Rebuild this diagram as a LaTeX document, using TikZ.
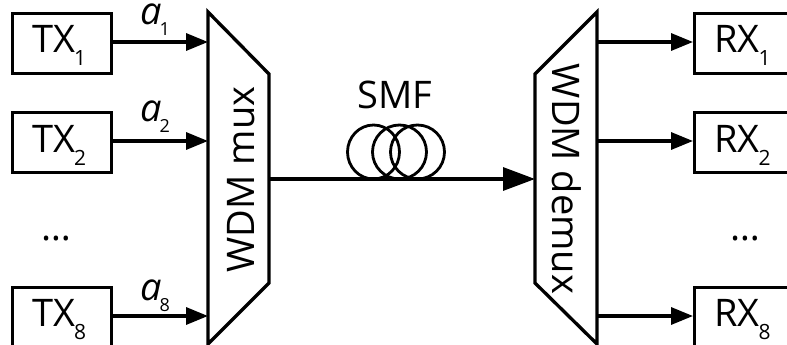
\documentclass[tikz,border=0pt]{standalone}
\usepackage{fontspec}
\setmainfont{Open Sans}
\usetikzlibrary{arrows.meta}
\newcommand{\subs}[1]{\hspace{-1pt}\raisebox{-13pt}{\fontsize{21}{21}\selectfont #1}}
\newcommand{\asub}[1]{\makebox[19.5pt][l]{\textit{a}}\raisebox{-11pt}{\fontsize{18}{18}\selectfont #1}}
\tikzset{
  x=1pt,y=-1pt,
  ln/.style={line width=3.3pt,line join=miter},
  box/.style={draw,ln,rectangle,minimum width=99pt,minimum height=60pt,inner sep=0pt,anchor=north west},
  txt/.style={inner sep=0pt,font=\fontsize{38}{41}\selectfont},
  sig/.style={ln,-{Triangle[length=22pt,width=17pt,sep=0pt]},shorten >=0pt},
  big/.style={ln,-{Triangle[length=32pt,width=23pt]}},
  coil/.style={line width=2.8pt},
}
\begin{document}
\begin{tikzpicture}
\useasboundingbox (0,0) rectangle (787,345);
% boxes
\node[box] (tx1) at (11,12) {};
\node[box] (tx2) at (11,111) {};
\node[box] (tx8) at (11,286) {};
\node[box] (rx1) at (693,12) {};
\node[box] (rx2) at (693,111) {};
\node[box] (rx8) at (693,286) {};
% box texts
\node[txt,anchor=base west] (tx1t) at (32,53) {TX\subs{1}};
\node[txt,anchor=base west] (tx2t) at (32,152.5) {TX\subs{2}};
\node[txt,anchor=base west] (tx8t) at (32,326) {TX\subs{8}};
\node[txt,anchor=base west] (rx1t) at (714,53) {RX\subs{1}};
\node[txt,anchor=base west] (rx2t) at (714,152.5) {RX\subs{2}};
\node[txt,anchor=base west] (rx8t) at (714,326) {RX\subs{8}};
% trapezoids
\draw[ln] (208,12) -- (269,74) -- (269,283) -- (208,344) -- cycle;
\draw[ln] (597,12) -- (535,74) -- (535,283) -- (597,344) -- cycle;
\node[txt,rotate=90,anchor=base] (mux) at (254,179.5) {WDM mux};
\node[txt,rotate=-90,anchor=base] (demux) at (552,179) {WDM demux};
% ports
\coordinate (m1) at (208,42);
\coordinate (m2) at (208,141);
\coordinate (m8) at (208,316);
\coordinate (mo) at (269,179);
\coordinate (di) at (535,179);
\coordinate (d1) at (597,42);
\coordinate (d2) at (597,141);
\coordinate (d8) at (597,316);
% connectors
\draw[sig] (tx1.east |- m1) -- (m1);
\draw[sig] (tx2.east |- m2) -- (m2);
\draw[sig] (tx8.east |- m8) -- (m8);
\draw[big] (mo) -- (di);
\draw[sig] (d1) -- (rx1.west |- d1);
\draw[sig] (d2) -- (rx2.west |- d2);
\draw[sig] (d8) -- (rx8.west |- d8);
% fibre coil
\begin{scope}
\clip (330,110) rectangle (460,179);
\draw[coil] (373.5,152) ellipse (26 and 27);
\draw[coil] (399.5,152) ellipse (27 and 27);
\draw[coil] (417.5,152) ellipse (27 and 27);
\end{scope}
% labels
\node[txt,anchor=base] (smf) at (395,108) {SMF};
\node[txt,anchor=base west] (a1) at (140,25) {\asub{1}};
\node[txt,anchor=base west] (a2) at (140,121) {\asub{2}};
\node[txt,anchor=base west] (a8) at (140,300) {\asub{8}};
\node[txt,anchor=base] (dl) at (56,240) {…};
\node[txt,anchor=base] (dr) at (745,240) {…};
\end{tikzpicture}
\end{document}
